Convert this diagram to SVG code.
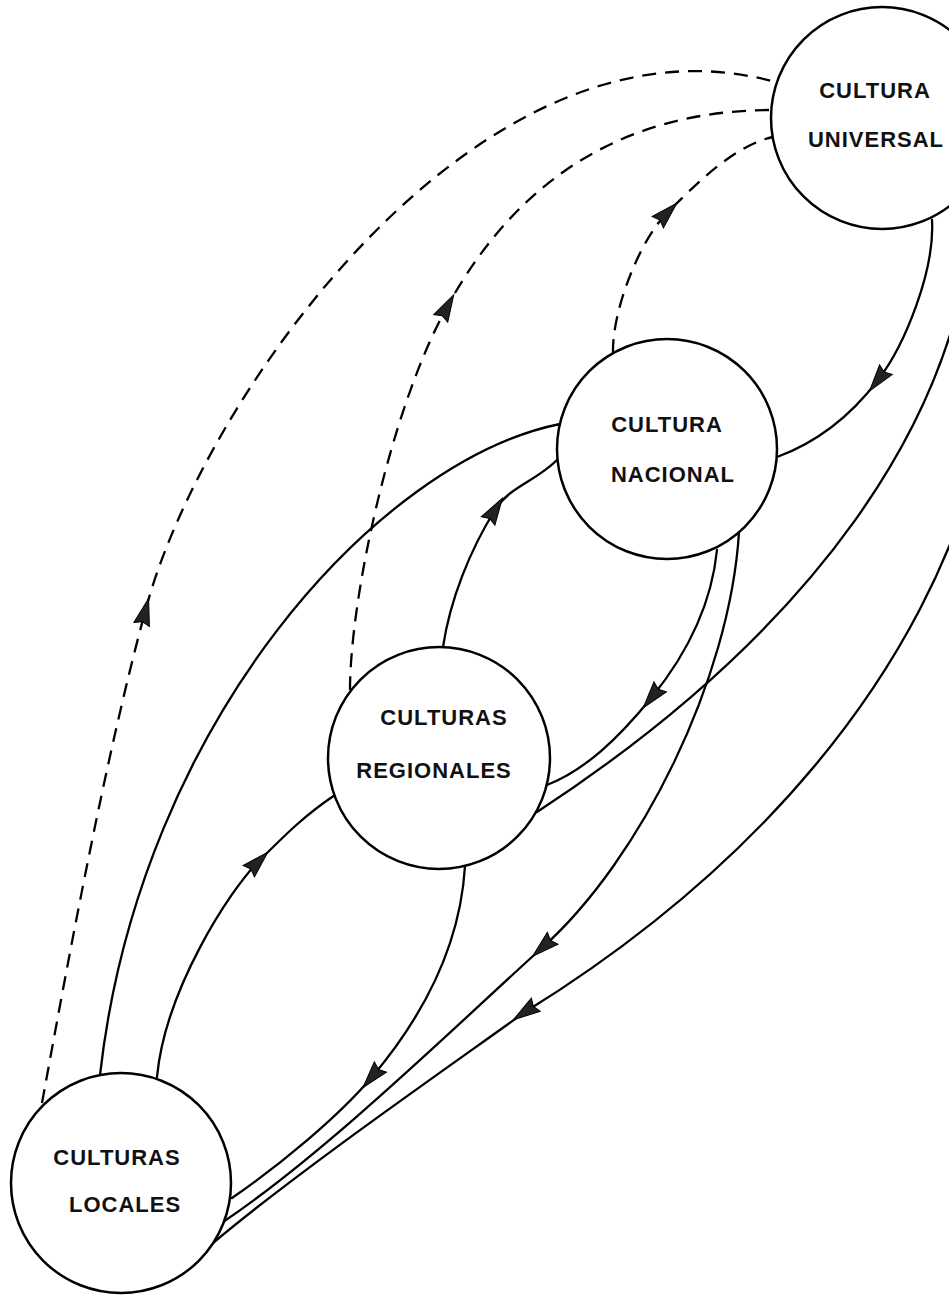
<svg xmlns="http://www.w3.org/2000/svg" width="949" height="1296" viewBox="0 0 949 1296">
<style>
.ln{fill:none;stroke:#000;stroke-width:2.3;stroke-linecap:round}
.da{stroke-dasharray:14 9;stroke-linecap:butt}
.arr{marker-mid:url(#arr)}
.nd{fill:#fff;stroke:#000;stroke-width:2.5}
.tx{font-family:"Liberation Sans",Arial,sans-serif;font-size:22px;font-weight:bold;letter-spacing:1px;text-anchor:middle;fill:#111}
</style>
<defs>
<marker id="arr" markerUnits="userSpaceOnUse" markerWidth="32" markerHeight="22" viewBox="-16 -11 32 22" refX="0" refY="0" orient="auto" overflow="visible">
<path d="M14,0 L-13,-8 L-10,0 L-13,8 Z" fill="#222" stroke="#000" stroke-width="1" stroke-dasharray="none"/>
</marker>
</defs>
<rect width="949" height="1296" fill="#fff"/>
<g id="connectors">
<path id="e1" class="ln da arr" d="M42,1103 C70,950 105,760 145,612 C200,400 480,0 775,82"/>
<path id="e2" class="ln da arr" d="M350,690 C350,600 390,410 447,307 C515,183 620,110 773,110"/>
<path id="e3" class="ln da arr" d="M613,353 C612,310 640,240 667,213 C697,183 735,145 773,137"/>
<path id="e4" class="ln arr" d="M932,220 C935,270 905,345 878,380 C846,422 810,445 777,457"/>
<path id="e5" class="ln" d="M560,424 C380,460 140,720 100,1075"/>
<path id="e6" class="ln arr" d="M443,647 C450,600 470,550 495,510 C510,486 535,482 557,460"/>
<path id="e7" class="ln arr" d="M717,550 C712,600 690,650 652,697 C618,739 585,770 547,785"/>
<path id="e8" class="ln arr" d="M739,532 C730,680 640,860 543,947 C465,1017 330,1150 223,1222"/>
<path id="e9" class="ln arr" d="M465,866 C460,950 420,1020 372,1077 C338,1117 280,1165 232,1198"/>
<path id="e10" class="ln arr" d="M985,170 C1050,450 900,780 525,1012 C440,1073 300,1170 213,1243"/>
<path id="e11" class="ln" d="M975,175 C975,420 800,640 537,812"/>
<path id="e12" class="ln arr" d="M157,1077 C165,990 230,890 258,862 C286,834 305,815 335,795"/>
</g>
<g id="universal">
<circle class="nd" cx="882" cy="118" r="111"/>
<text class="tx" x="875" y="98">CULTURA</text>
<text class="tx" x="876" y="147">UNIVERSAL</text>
</g>
<g id="nacional">
<circle class="nd" cx="667" cy="449" r="110"/>
<text class="tx" x="667" y="432">CULTURA</text>
<text class="tx" x="673" y="482">NACIONAL</text>
</g>
<g id="regionales">
<circle class="nd" cx="439" cy="758" r="111"/>
<text class="tx" x="444" y="725">CULTURAS</text>
<text class="tx" x="434" y="778">REGIONALES</text>
</g>
<g id="locales">
<circle class="nd" cx="121" cy="1183" r="110"/>
<text class="tx" x="117" y="1165">CULTURAS</text>
<text class="tx" x="125" y="1212">LOCALES</text>
</g>
</svg>
